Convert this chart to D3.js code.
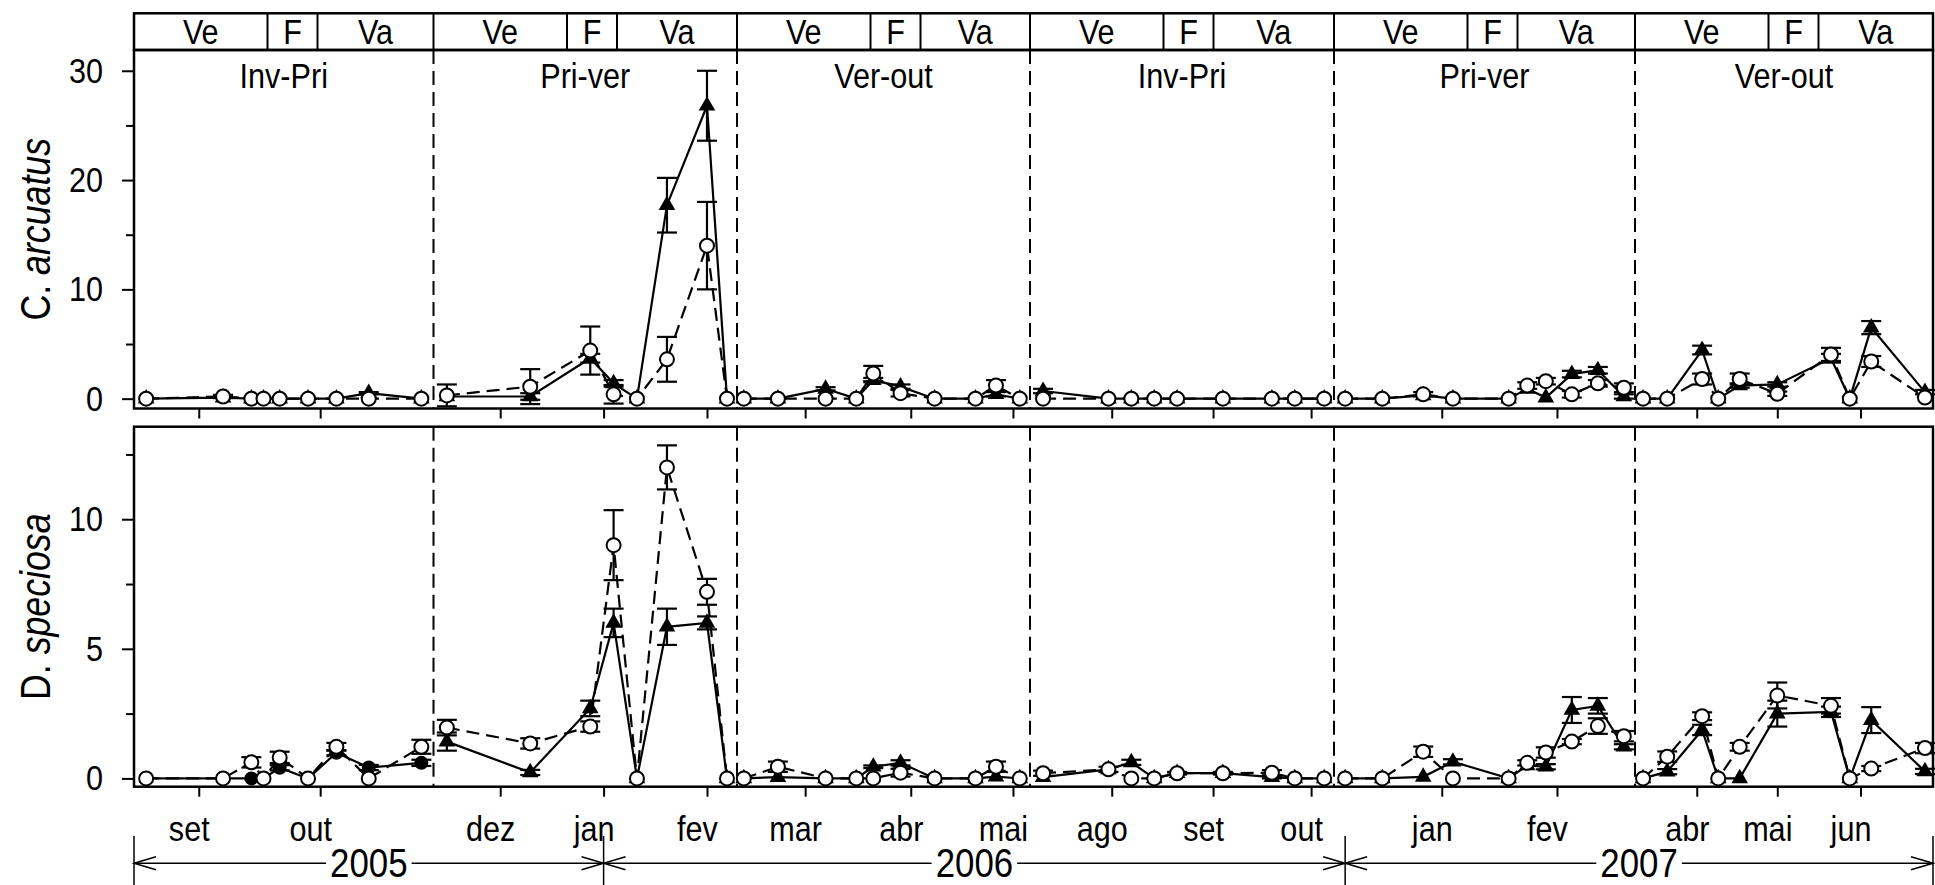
<!DOCTYPE html>
<html>
<head>
<meta charset="utf-8">
<script src="https://cdn.jsdelivr.net/npm/d3@7"></script>
<style>
  body { margin: 0; background: #fff; }
  svg text { font-family: "Liberation Sans", Arial, sans-serif; fill: #000; }
</style>
</head>
<body>
<svg width="1935" height="885"></svg>
<script>
// ---- data ----
var periods = ["Inv-Pri", "Pri-ver", "Ver-out", "Inv-Pri", "Pri-ver", "Ver-out"];
var periodRange = [
  ["2005-08-16", "2005-10-29"], ["2005-11-11", "2006-02-10"], ["2006-02-09", "2006-05-06"],
  ["2006-07-07", "2006-10-08"], ["2006-12-03", "2007-02-22"], ["2007-03-09", "2007-06-28"]
];
var sampleDates = [
  ["2005-08-19","2005-09-07","2005-09-14","2005-09-17","2005-09-21","2005-09-28","2005-10-05","2005-10-13","2005-10-26"],
  ["2005-11-15","2005-12-10","2005-12-28","2006-01-04","2006-01-11","2006-01-20","2006-02-01","2006-02-07"],
  ["2006-02-11","2006-02-21","2006-03-07","2006-03-16","2006-03-21","2006-03-29","2006-04-08","2006-04-20","2006-04-26","2006-05-03"],
  ["2006-07-11","2006-07-31","2006-08-07","2006-08-14","2006-08-21","2006-09-04","2006-09-19","2006-09-26","2006-10-05"],
  ["2006-12-06","2006-12-16","2006-12-27","2007-01-04","2007-01-19","2007-01-24","2007-01-29","2007-02-05","2007-02-12","2007-02-19"],
  ["2007-03-12","2007-03-21","2007-04-03","2007-04-09","2007-04-17","2007-05-01","2007-05-21","2007-05-28","2007-06-05","2007-06-25"]
];

// C. arcuatus, solid line (triangles) and dashed line (open circles)
var caTri = [
  [0, 0.1, 0, 0, 0, 0, 0, 0.5, 0],
  [0.2, 0.2, 3.7, 1.4, 0, 17.7, 26.8, 0],
  [0, 0, 0.9, 0, 1.7, 1.1, 0, 0, 0.4, 0],
  [0.7, 0, 0, 0, 0, 0, 0, 0, 0],
  [0, 0, 0.3, 0, 0, 0.9, 0.1, 2.25, 2.6, 0.2],
  [0, 0, 4.45, 0, 1.2, 1.3, 3.7, 0, 6.5, 0.6]
];
var caTriErr = [
  [0, 0, 0, 0, 0, 0, 0, 0.1, 0],
  [0, 0.3, 0.4, 0.3, 0, 2.5, 3.2, 0],
  [0, 0, 0.15, 0, 0.2, 0.2, 0, 0, 0.2, 0],
  [0.2, 0, 0, 0, 0, 0, 0, 0, 0],
  [0, 0, 0, 0, 0, 0, 0, 0.3, 0.3, 0.2],
  [0, 0, 0.4, 0, 0.2, 0.2, 0.4, 0, 0.6, 0.2]
];
var caCirc = [
  [0, 0.2, 0, 0, 0, 0, 0, 0, 0],
  [0.3, 1.1, 4.4, 0.4, 0, 3.6, 14.0, 0],
  [0, 0, 0, 0, 2.3, 0.5, 0, 0, 1.2, 0],
  [0, 0, 0, 0, 0, 0, 0, 0, 0],
  [0, 0, 0.4, 0, 0, 1.2, 1.6, 0.4, 1.4, 1.0],
  [0, 0, 1.8, 0, 1.8, 0.45, 4.05, 0, 3.4, 0.1]
];
var caCircErr = [
  [0, 0.15, 0, 0, 0, 0, 0, 0, 0],
  [1.0, 1.6, 2.2, 0.85, 0, 2.05, 4.0, 0],
  [0, 0, 0, 0, 0.7, 0.3, 0, 0, 0.5, 0],
  [0, 0, 0, 0, 0, 0, 0, 0, 0],
  [0, 0, 0.2, 0, 0, 0.3, 0.3, 0.3, 0.3, 0.4],
  [0, 0, 0.5, 0, 0.5, 0.2, 0.6, 0, 0.5, 0]
];

// D. speciosa
var dsTri = [
  [0, 0, 0, 0, 0.41, 0, 0.99, 0.42, 0.6],
  [1.42, 0.23, 2.7, 6.0, 0, 5.85, 6.0, 0],
  [0, 0.05, 0, 0, 0.45, 0.6, 0, 0, 0.07, 0],
  [0.05, 0.35, 0.62, 0, 0.2, 0.2, 0.05, 0, 0],
  [0, 0, 0.06, 0.64, 0, 0.5, 0.45, 2.64, 2.8, 1.22],
  [0, 0.26, 1.87, 0, 0, 2.5, 2.57, 0, 2.25, 0.27]
];
var dsTriErr = [
  [0, 0, 0, 0, 0.1, 0, 0.1, 0.1, 0.12],
  [0.35, 0.1, 0.3, 0.55, 0, 0.7, 0.25, 0],
  [0, 0, 0, 0, 0.05, 0.1, 0, 0, 0, 0],
  [0, 0, 0.1, 0, 0, 0, 0.05, 0, 0],
  [0, 0, 0, 0.1, 0, 0, 0.1, 0.5, 0.3, 0.1],
  [0, 0.1, 0.2, 0, 0, 0.5, 0.2, 0, 0.5, 0.1]
];
var dsCirc = [
  [0, 0, 0.62, 0, 0.81, 0, 1.22, 0, 1.22],
  [1.96, 1.35, 2.0, 9.0, 0, 12.0, 7.2, 0],
  [0, 0.45, 0, 0, 0, 0.22, 0, 0, 0.45, 0],
  [0.2, 0.35, 0, 0, 0.2, 0.2, 0.22, 0, 0],
  [0, 0, 1.03, 0, 0, 0.6, 1.0, 1.42, 2.02, 1.63],
  [0, 0.84, 2.4, 0, 1.22, 3.2, 2.8, 0, 0.38, 1.17]
];
var dsCircErr = [
  [0, 0, 0.2, 0, 0.22, 0, 0.15, 0, 0.27],
  [0.3, 0.2, 0.2, 1.35, 0, 0.85, 0.5, 0],
  [0, 0.2, 0, 0, 0, 0.15, 0, 0, 0.2, 0],
  [0.1, 0.1, 0, 0, 0.05, 0.05, 0.1, 0, 0],
  [0, 0, 0.2, 0, 0, 0.1, 0.2, 0.1, 0.3, 0.2],
  [0, 0.2, 0.15, 0, 0.15, 0.5, 0.3, 0, 0.1, 0.2]
];

// marker of the solid series in each period
var caSolidShape = ["tri", "tri", "tri", "tri", "tri", "tri"];
var dsSolidShape = ["dot", "tri", "tri", "tri", "tri", "tri"];

var tideLabels = ["Ve", "F", "Va"];
var caTicks = [0, 10, 20, 30], caMinor = [5, 15, 25];
var dsTicks = [0, 5, 10], dsMinor = [2.5, 7.5, 12.5];
var monthNames = ["jan","fev","mar","abr","mai","jun","jul","ago","set","out","nov","dez"];
var years = ["2005", "2006", "2007"];
var yearBreaks = [[0, "2005-08-16"], [1, "2006-01-01"], [4, "2006-12-06"], [5, "2007-06-28"]];

// ---- layout ----
var svg = d3.select("svg");
var parseDate = d3.timeParse("%Y-%m-%d");
var font = "'Liberation Sans', Arial, sans-serif";
var sx = 0.85;   // the original lettering is a narrow face

var edges = [134, 433.5, 737, 1030, 1334, 1635, 1933];
var stripTop = 13.3, stripBottom = 50;
var veWidth = 133.5, fWidth = 50;

var x = periodRange.map(function(r, i) {
  return d3.scaleTime().domain(r.map(parseDate)).range([edges[i], edges[i + 1]]);
});

// text helper: places narrow text at (px, py)
function label(parent, px, py, size, str, extra) {
  return parent.append("text")
      .attr("transform", "translate(" + px + "," + py + ")" + (extra || "") + " scale(" + sx + ",1)")
      .attr("text-anchor", "middle")
      .attr("font-size", size)
      .text(str);
}

var panels = [
  {top: 50, bottom: 408.5, domain: [-0.9, 31.9], ticks: caTicks, minor: caMinor,
   tri: caTri, triErr: caTriErr, circ: caCirc, circErr: caCircErr,
   shapes: caSolidShape, genus: "C. ", species: "arcuatus"},
  {top: 426.7, bottom: 786.7, domain: [-0.32, 13.57], ticks: dsTicks, minor: dsMinor,
   tri: dsTri, triErr: dsTriErr, circ: dsCirc, circErr: dsCircErr,
   shapes: dsSolidShape, genus: "D. ", species: "speciosa"}
];

function cleanAxis(a) {
  a.select(".domain").remove();
  a.selectAll("line").attr("stroke", "#000").attr("stroke-width", 2);
  a.attr("font-family", font).attr("font-size", 36);
}

panels.forEach(function(p) {
  var y = d3.scaleLinear().domain(p.domain).range([p.bottom, p.top]);
  var g = svg.append("g");

  // y axis, labelled major ticks and short minor ticks
  g.append("g")
      .attr("transform", "translate(" + edges[0] + ",0)")
      .call(d3.axisLeft(y).tickValues(p.ticks).tickSize(12).tickPadding(19))
      .call(cleanAxis)
    .selectAll("text")
      .attr("x", -31 / sx)
      .attr("transform", "scale(" + sx + ",1)");
  g.append("g")
      .attr("transform", "translate(" + edges[0] + ",0)")
      .call(d3.axisLeft(y).tickValues(p.minor).tickSize(8).tickFormat(""))
      .call(cleanAxis);

  label(g, 50, (p.top + p.bottom) / 2, 42, null, " rotate(-90)")
      .call(function(t) {
        t.append("tspan").text(p.genus);
        t.append("tspan").attr("font-style", "italic").text(p.species);
      });

  periods.forEach(function(name, i) {
    var xs = x[i];
    var months = d3.timeMonth.range(xs.domain()[0], xs.domain()[1]);

    g.append("g")
        .attr("transform", "translate(0," + p.bottom + ")")
        .call(d3.axisBottom(xs).tickValues(months).tickSize(10).tickFormat(""))
        .call(cleanAxis);

    if (i > 0) {
      g.append("line")
          .attr("x1", edges[i]).attr("x2", edges[i])
          .attr("y1", p.top).attr("y2", p.bottom)
          .attr("stroke", "#000")
          .attr("stroke-width", 2)
          .attr("stroke-dasharray", "14,7");
    }

    var rows = sampleDates[i].map(function(d, j) {
      return {date: parseDate(d), tri: p.tri[i][j], triErr: p.triErr[i][j],
              circ: p.circ[i][j], circErr: p.circErr[i][j]};
    });

    var lineTri = d3.line().x(function(d) { return xs(d.date); }).y(function(d) { return y(d.tri); });
    var lineCirc = d3.line().x(function(d) { return xs(d.date); }).y(function(d) { return y(d.circ); });

    g.append("path")
        .datum(rows)
        .attr("d", lineTri)
        .attr("fill", "none")
        .attr("stroke", "#000")
        .attr("stroke-width", 2.2);
    g.append("path")
        .datum(rows)
        .attr("d", lineCirc)
        .attr("fill", "none")
        .attr("stroke", "#000")
        .attr("stroke-width", 2.2)
        .attr("stroke-dasharray", "13,7");

    // error bars with caps
    [["tri", "triErr"], ["circ", "circErr"]].forEach(function(k) {
      var bars = g.selectAll(null)
        .data(rows.filter(function(d) { return d[k[1]] > 0; }))
        .enter().append("g")
          .attr("stroke", "#000")
          .attr("stroke-width", 2.2);
      bars.append("line")
          .attr("x1", function(d) { return xs(d.date); })
          .attr("x2", function(d) { return xs(d.date); })
          .attr("y1", function(d) { return y(d[k[0]] - d[k[1]]); })
          .attr("y2", function(d) { return y(d[k[0]] + d[k[1]]); });
      [-1, 1].forEach(function(s) {
        bars.append("line")
            .attr("x1", function(d) { return xs(d.date) - 10; })
            .attr("x2", function(d) { return xs(d.date) + 10; })
            .attr("y1", function(d) { return y(d[k[0]] + s * d[k[1]]); })
            .attr("y2", function(d) { return y(d[k[0]] + s * d[k[1]]); });
      });
    });

    if (p.shapes[i] === "dot") {
      g.selectAll(null)
        .data(rows)
        .enter().append("circle")
          .attr("cx", function(d) { return xs(d.date); })
          .attr("cy", function(d) { return y(d.tri); })
          .attr("r", 7)
          .attr("fill", "#000");
    } else {
      g.selectAll(null)
        .data(rows)
        .enter().append("path")
          .attr("d", d3.symbol().type(d3.symbolTriangle).size(120))
          .attr("transform", function(d) { return "translate(" + xs(d.date) + "," + y(d.tri) + ")"; })
          .attr("fill", "#000");
    }

    g.selectAll(null)
      .data(rows)
      .enter().append("circle")
        .attr("cx", function(d) { return xs(d.date); })
        .attr("cy", function(d) { return y(d.circ); })
        .attr("r", 7)
        .attr("fill", "#fff")
        .attr("stroke", "#000")
        .attr("stroke-width", 2);
  });

  g.append("rect")
      .attr("x", edges[0]).attr("y", p.top)
      .attr("width", edges[6] - edges[0]).attr("height", p.bottom - p.top)
      .attr("fill", "none")
      .attr("stroke", "#000")
      .attr("stroke-width", 2.5);
});

// ---- top strip and period names ----
var strip = svg.append("g");
strip.append("rect")
    .attr("x", edges[0]).attr("y", stripTop)
    .attr("width", edges[6] - edges[0]).attr("height", stripBottom - stripTop)
    .attr("fill", "none")
    .attr("stroke", "#000")
    .attr("stroke-width", 2.5);

periods.forEach(function(name, i) {
  var l = edges[i], r = edges[i + 1];
  var cuts = [l, l + veWidth, l + veWidth + fWidth, r];
  cuts.slice(0, 3).forEach(function(c, j) {
    if (j > 0 || i > 0) {
      strip.append("line")
          .attr("x1", c).attr("x2", c)
          .attr("y1", stripTop).attr("y2", stripBottom)
          .attr("stroke", "#000")
          .attr("stroke-width", 2);
    }
    label(strip, (cuts[j] + cuts[j + 1]) / 2, 44, 36, tideLabels[j]);
  });

  label(strip, (l + r) / 2, 88, 36, name);

  // month names under the lower panel
  d3.timeMonth.range(x[i].domain()[0], x[i].domain()[1]).forEach(function(m) {
    label(strip, x[i](m) - 9.5, 841, 36, monthNames[m.getMonth()]);
  });
});

// ---- year arrows ----
var yearY = 863.3;
var yearPos = yearBreaks.map(function(b) { return x[b[0]](parseDate(b[1])); });
var yg = svg.append("g").attr("stroke", "#000").attr("stroke-width", 1.5).attr("fill", "none");

yearPos.forEach(function(px) {
  yg.append("line").attr("x1", px).attr("x2", px).attr("y1", 836).attr("y2", 885);
});

years.forEach(function(yr, i) {
  var a = yearPos[i], b = yearPos[i + 1];
  yg.append("line").attr("x1", a).attr("x2", b).attr("y1", yearY).attr("y2", yearY);
  yg.append("path").attr("d", "M" + (a + 22) + "," + (yearY - 6.5) + "L" + a + "," + yearY + "L" + (a + 22) + "," + (yearY + 6.5));
  yg.append("path").attr("d", "M" + (b - 22) + "," + (yearY - 6.5) + "L" + b + "," + yearY + "L" + (b - 22) + "," + (yearY + 6.5));

  var t = label(svg, (a + b) / 2, 876.5, 41, yr);
  var w = t.node().getBBox().width * sx;
  svg.insert("rect", function() { return t.node(); })
      .attr("x", (a + b) / 2 - w / 2 - 4).attr("y", yearY - 3)
      .attr("width", w + 8).attr("height", 6)
      .attr("fill", "#fff");
});
</script>
</body>
</html>
